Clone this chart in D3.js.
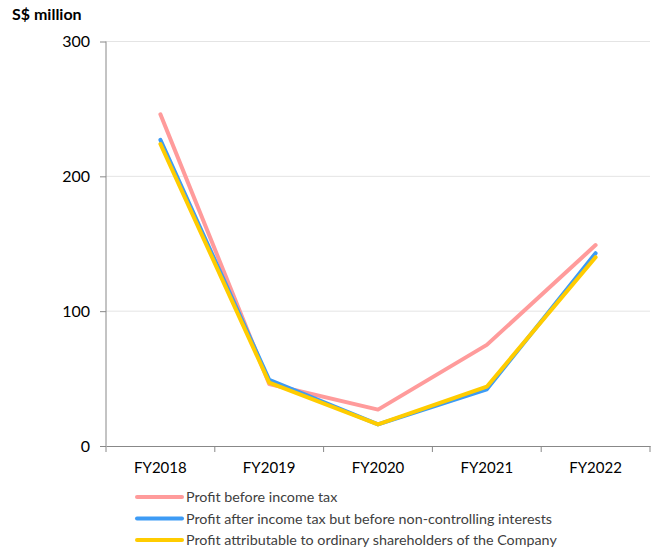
<html>
<head>
<meta charset="utf-8">
<style>
  body { margin: 0; background: #fff; }
  text { font-family: Lato, "Open Sans", sans-serif; }
</style>
</head>
<body>
<div id="chart"></div>
<script src="https://d3js.org/d3.v7.min.js"></script>
<script>
var years = ["FY2018", "FY2019", "FY2020", "FY2021", "FY2022"];
var beforeTax = [246, 46, 27, 75, 149];
var afterTax = [227, 49, 16, 42, 143];
var toShareholders = [224, 47, 16, 44, 140];
var yTicks = [0, 100, 200, 300];

var series = [
    { name: "Profit before income tax", values: beforeTax, color: "#ff9b9b" },
    { name: "Profit after income tax but before non-controlling interests", values: afterTax, color: "#3d9bf5" },
    { name: "Profit attributable to ordinary shareholders of the Company", values: toShareholders, color: "#ffcc00" }
];

var width = 659, height = 554;
var svg = d3.select("#chart").append("svg")
    .attr("width", width)
    .attr("height", height);

var x = d3.scaleBand().domain(years).range([106, 650]);
var y = d3.scaleLinear().domain([0, 300]).range([446, 41.5]);

// grid
svg.selectAll(".grid")
    .data(yTicks.slice(1))
    .enter().append("line")
    .attr("x1", 106).attr("x2", 650)
    .attr("y1", function (d) { return y(d); })
    .attr("y2", function (d) { return y(d); })
    .attr("stroke", "#e4e4e4")
    .attr("stroke-width", 1);

// y axis
var yAxis = svg.append("g")
    .attr("transform", "translate(106,0)")
    .call(d3.axisLeft(y).tickValues(yTicks).tickSize(6).tickPadding(10));
yAxis.select(".domain").attr("stroke", "#888").attr("d", "M0," + y(300) + "V" + y(0));
yAxis.selectAll(".tick line").attr("stroke", "#888");
yAxis.selectAll("text").attr("font-size", 16).attr("fill", "#000")
    .style("font-family", "Lato, sans-serif");

// x axis
var xAxis = svg.append("g")
    .attr("transform", "translate(0,446)")
    .call(d3.axisBottom(x).tickSize(0).tickPadding(16));
xAxis.select(".domain").attr("stroke", "#888");
xAxis.selectAll("text").attr("font-size", 15).attr("fill", "#000")
    .style("font-family", "Lato, sans-serif");
xAxis.selectAll(".sep")
    .data(years.concat(["end"]))
    .enter().append("line")
    .attr("x1", function (d, i) { return 106 + i * x.step(); })
    .attr("x2", function (d, i) { return 106 + i * x.step(); })
    .attr("y1", 0).attr("y2", 6)
    .attr("stroke", "#888");

// lines
var line = d3.line()
    .x(function (d, i) { return x(years[i]) + x.bandwidth() / 2; })
    .y(function (d) { return y(d); });

svg.selectAll(".series")
    .data(series)
    .enter().append("path")
    .attr("d", function (d) { return line(d.values); })
    .attr("fill", "none")
    .attr("stroke", function (d) { return d.color; })
    .attr("stroke-width", 4)
    .attr("stroke-linecap", "round")
    .attr("stroke-linejoin", "round");

// unit label
svg.append("text")
    .attr("x", 12).attr("y", 20)
    .attr("font-size", 16).attr("font-weight", "bold")
    .text("S$ million");

// legend
var legend = svg.selectAll(".legend")
    .data(series)
    .enter().append("g")
    .attr("transform", function (d, i) { return "translate(137," + (497 + i * 21.5) + ")"; });
legend.append("line")
    .attr("x1", 0).attr("x2", 45)
    .attr("stroke", function (d) { return d.color; })
    .attr("stroke-width", 4)
    .attr("stroke-linecap", "round");
legend.append("text")
    .attr("x", 49).attr("y", 5)
    .attr("font-size", 14.3).attr("fill", "#404040")
    .text(function (d) { return d.name; });
</script>
</body>
</html>
